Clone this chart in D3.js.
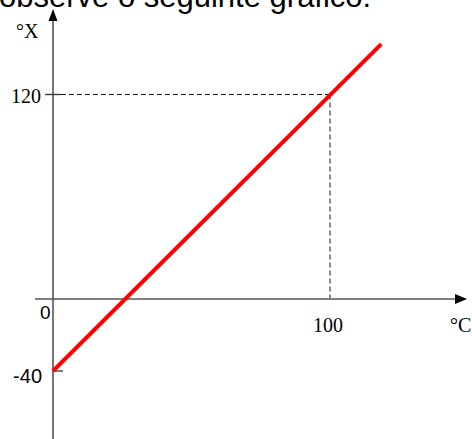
<!DOCTYPE html>
<html><head><meta charset="utf-8">
<script src="https://cdn.jsdelivr.net/npm/d3@7"></script>
<style>
html,body{margin:0;padding:0;background:#fff;overflow:hidden;}
svg{display:block;}
</style></head>
<body>
<svg id="c" width="472" height="439"></svg>
<script>
// ---- data ----
const titleText = "observe o seguinte gráfico:";
const celsius = [0, 118.5];          // line endpoints (°C)
const xValues = [-40, 149.6];        // corresponding °X
const yTickValues = [120, -40];
const xTickValues = [100];
const refPoint = {c: 100, x: 120};
const xUnit = "°C", yUnit = "°X";

// ---- layout ----
const svg = d3.select("#c");
const x = d3.scaleLinear().domain([0, 100]).range([53, 330]);
const y = d3.scaleLinear().domain([-40, 0, 120]).range([371, 299, 94.5]);

// title (partially cut at top, as in the reference)
svg.append("text").attr("x", -1).attr("y", 7)
  .attr("font-family", "Liberation Sans, Arial, sans-serif").attr("font-size", 31)
  .attr("fill", "#000").text(titleText);

// dashed guides
svg.append("line").attr("x1", x(0)).attr("x2", x(refPoint.c))
  .attr("y1", y(refPoint.x)).attr("y2", y(refPoint.x))
  .attr("stroke", "#111").attr("stroke-width", 1).attr("stroke-dasharray", "5,3");
svg.append("line").attr("x1", x(refPoint.c)).attr("x2", x(refPoint.c))
  .attr("y1", y(refPoint.x)).attr("y2", y(0))
  .attr("stroke", "#111").attr("stroke-width", 1).attr("stroke-dasharray", "5,3");

// x axis
svg.append("line").attr("x1", 35).attr("x2", 458).attr("y1", y(0)).attr("y2", y(0))
  .attr("stroke", "#808080").attr("stroke-width", 2);
svg.append("path").attr("d", `M467,${y(0)} L455,${y(0)-5} L455,${y(0)+5} Z`).attr("fill", "#000");

// y axis
svg.append("line").attr("x1", x(0)).attr("x2", x(0)).attr("y1", 18).attr("y2", 439)
  .attr("stroke", "#555").attr("stroke-width", 1.6);
svg.append("path").attr("d", `M${x(0)},9 L${x(0)-4.5},21 L${x(0)+4.5},21 Z`).attr("fill", "#000");

// y ticks
svg.append("line").attr("x1", 45).attr("x2", 61).attr("y1", y(120)).attr("y2", y(120))
  .attr("stroke", "#333").attr("stroke-width", 1.3);
svg.append("line").attr("x1", x(0)).attr("x2", 63).attr("y1", y(-40)).attr("y2", y(-40))
  .attr("stroke", "#808080").attr("stroke-width", 2);

// red line
const line = d3.line().x(d => x(d[0])).y(d => y(d[1]));
svg.append("path").datum(d3.zip(celsius, xValues)).attr("d", line)
  .attr("stroke", "#ff0000").attr("stroke-width", 4).attr("fill", "none");

// labels
const serif = "Liberation Serif, Times New Roman, serif";
const sans = "Liberation Sans, Arial, sans-serif";
svg.append("text").attr("x", 41).attr("y", y(120) + 8.5).attr("text-anchor", "end")
  .attr("font-family", serif).attr("font-size", 20).text(yTickValues[0]);
svg.append("text").attr("x", 42).attr("y", y(-40) + 12).attr("text-anchor", "end")
  .attr("font-family", sans).attr("font-size", 20).text(yTickValues[1]);
svg.append("text").attr("x", 40).attr("y", y(0) + 20)
  .attr("font-family", sans).attr("font-size", 19).text("0");
svg.append("text").attr("x", x(xTickValues[0]) - 2).attr("y", 332).attr("text-anchor", "middle")
  .attr("font-family", serif).attr("font-size", 20).text(xTickValues[0]);
svg.append("text").attr("x", 450).attr("y", 332)
  .attr("font-family", serif).attr("font-size", 20).text(xUnit);
svg.append("text").attr("x", 16).attr("y", 38)
  .attr("font-family", serif).attr("font-size", 20).text(yUnit);
</script>
</body></html>
